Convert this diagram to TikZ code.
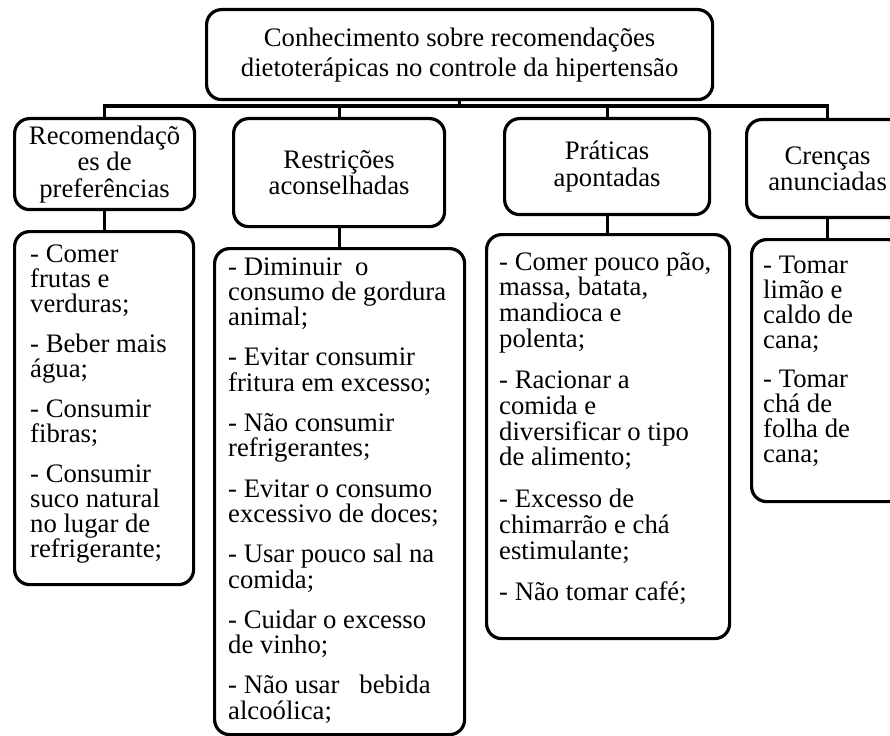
\documentclass[tikz,border=0pt]{standalone}
\usepackage{fontspec}
\setmainfont{Liberation Serif}
\newcommand{\cbox}[3]{\parbox[t]{320pt}{\fontsize{26.7}{#1}\selectfont\raggedright\setlength{\parskip}{#2}#3}}
\begin{document}
\begin{tikzpicture}[x=1pt,y=-1pt,
  box/.style={draw, line width=3.2pt, rounded corners=15pt, inner sep=0pt, anchor=north west},
  conn/.style={line width=3.2pt},
  hfont/.style={font=\fontsize{26.7}{26.5}\selectfont, align=center},
  tfont/.style={font=\fontsize{26.7}{30}\selectfont, align=center},
  itemtxt/.style={anchor=base west, inner sep=0pt}]
\useasboundingbox (0,0) rectangle (890,735);
\clip (0,0) rectangle (890,735);
% top box
\node[box, tfont, minimum width=506pt, minimum height=90pt] (top) at (205,8)
  {Conhecimento sobre recomendações\\dietoterápicas no controle da hipertensão};
% header boxes
\node[box, hfont, minimum width=180pt, minimum height=91pt] (h1) at (13,117)
  {Recomendaçõ\\es de\\preferências};
\node[box, hfont, minimum width=211pt, minimum height=108pt] (h2) at (232,117)
  {Restrições\\aconselhadas};
\node[box, hfont, minimum width=205pt, minimum height=96pt] (h3) at (503,117)
  {Práticas\\apontadas};
\node[box, hfont, minimum width=162pt, minimum height=98pt] (h4) at (745,118)
  {Crenças\\anunciadas};
% content boxes
\node[box, minimum width=179pt, minimum height=353pt] (c1) at (13,230) {};
\node[box, minimum width=250pt, minimum height=486pt] (c2) at (213,247) {};
\node[box, minimum width=243pt, minimum height=404pt] (c3) at (485,233) {};
\node[box, minimum width=152pt, minimum height=262pt] (c4) at (750,238) {};
% connectors
\coordinate (bus) at (458,106);
\draw[conn] (top.south) -- (top.south |- bus);
\draw[conn] (h1.north) -- (h1.north |- bus) -- (h4.north |- bus) -- (h4.north);
\draw[conn] (h2.north) -- (h2.north |- bus);
\draw[conn] (h3.north) -- (h3.north |- bus);
\draw[conn] (h1.south) -- (h1.south |- c1.north);
\draw[conn] (h2.south) -- (h2.south |- c2.north);
\draw[conn] (h3.south) -- (h3.south |- c3.north);
\draw[conn] (h4.south) -- (h4.south |- c4.north);
% texts
\node[itemtxt] (t1) at (30,262) {\cbox{25pt}{15pt}{%
- Comer\\frutas e\\verduras;\par
- Beber mais\\água;\par
- Consumir\\fibras;\par
- Consumir\\suco natural\\no lugar de\\refrigerante;}};
\node[itemtxt] (t2) at (228,275) {\cbox{25.3pt}{15pt}{%
- Diminuir\ \ o\\consumo de gordura\\animal;\par
- Evitar consumir\\fritura em excesso;\par
- Não consumir\\refrigerantes;\par
- Evitar o consumo\\excessivo de doces;\par
- Usar pouco sal na\\comida;\par
- Cuidar o excesso\\de vinho;\par
- Não usar\ \ \ bebida\\alcoólica;}};
\node[itemtxt] (t3) at (499,270) {\cbox{25.7pt}{16pt}{%
- Comer pouco pão,\\massa, batata,\\mandioca e\\polenta;\par
- Racionar a\\comida e\\diversificar o tipo\\de alimento;\par
- Excesso de\\chimarrão e chá\\estimulante;\par
- Não tomar café;}};
\node[itemtxt] (t4) at (763,273) {\cbox{25pt}{14pt}{%
- Tomar\\limão e\\caldo de\\cana;\par
- Tomar\\chá de\\folha de\\cana;}};
\end{tikzpicture}
\end{document}
